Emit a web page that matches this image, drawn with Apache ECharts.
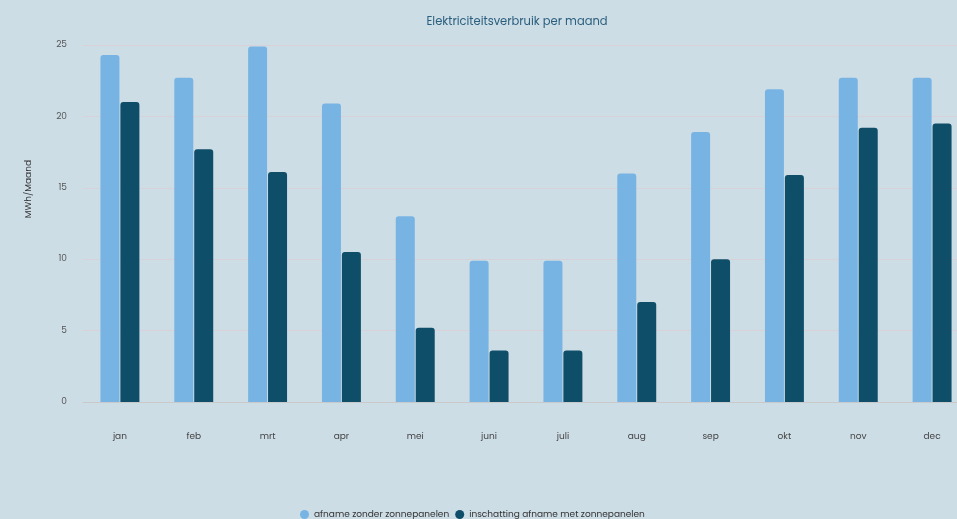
<!DOCTYPE html>
<html>
<head>
<meta charset="utf-8">
<script src="https://cdn.jsdelivr.net/npm/echarts@6/dist/echarts.min.js"></script>
<style>
html,body{margin:0;padding:0;background:#cddde6;}
#c{width:957px;height:519px;}
</style>
</head>
<body>
<div id="c"></div>
<script>
var categories = ['jan','feb','mrt','apr','mei','juni','juli','aug','sep','okt','nov','dec'];
var zonder = [24.3, 22.7, 24.9, 20.9, 13.0, 9.9, 9.9, 16.0, 18.9, 21.9, 22.7, 22.7];
var met = [21.0, 17.7, 16.1, 10.5, 5.2, 3.6, 3.6, 7.0, 10.0, 15.9, 19.2, 19.5];
var seriesNames = ['afname zonder zonnepanelen', 'inschatting afname met zonnepanelen'];

var font = 'Poppins, "Open Sans", Lato, sans-serif';
var chart = echarts.init(document.getElementById('c'));
chart.setOption({
  backgroundColor: '#cddde6',
  animation: false,
  title: {
    text: 'Elektriciteitsverbruik per maand',
    left: 512, top: 11, textAlign: 'center',
    textStyle: {color: '#2b5f7e', fontSize: 11.5, fontWeight: 'normal', fontFamily: font}
  },
  legend: {
    top: 505, left: 295, itemWidth: 9, itemHeight: 9, itemGap: 6,
    icon: 'circle',
    textStyle: {color: '#333', fontSize: 9, fontFamily: font},
    data: seriesNames
  },
  grid: {left: 83, width: 886, top: 45, height: 357, containLabel: false, outerBoundsMode: 'none'},
  xAxis: {
    type: 'category', data: categories,
    axisTick: {show: false},
    axisLine: {lineStyle: {color: '#c9c9c9'}},
    axisLabel: {color: '#444', fontSize: 9, margin: 30, fontFamily: font}
  },
  yAxis: {
    type: 'value', min: 0, max: 25, interval: 5,
    axisLabel: {color: '#555', fontSize: 9, margin: 16, fontFamily: font},
    splitLine: {lineStyle: {color: '#d8d2d8'}},
    axisLine: {show: false}, axisTick: {show: false}
  },
  graphic: [{
    type: 'text', left: 24, top: 160, rotation: Math.PI / 2,
    style: {text: 'MWh/Maand', fill: '#333', fontSize: 9, fontFamily: font}
  }],
  series: [{
    name: seriesNames[0], type: 'bar', data: zonder,
    barWidth: 19, barGap: '5%',
    itemStyle: {color: '#78b4e3', borderRadius: [3,3,0,0]}
  },{
    name: seriesNames[1], type: 'bar', data: met,
    barWidth: 19,
    itemStyle: {color: '#0e4e69', borderRadius: [3,3,0,0]}
  }]
});
</script>
</body>
</html>
